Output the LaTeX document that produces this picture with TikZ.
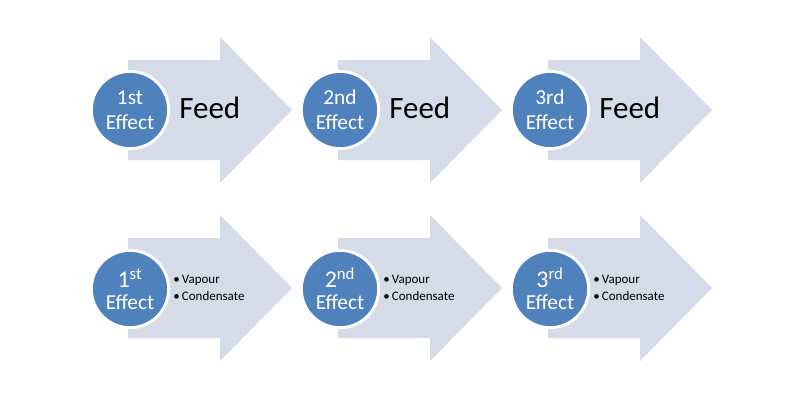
\documentclass[tikz,border=0pt]{standalone}
\usepackage{fontspec}
\setmainfont{Carlito}
\usepackage{xcolor}
\usepackage{tikz}

\definecolor{effblue}{HTML}{4F81BD}
\definecolor{arrowgray}{HTML}{D5DBE8}

\tikzset{
    arrowbody/.style={fill=arrowgray},
    effect/.style={circle,fill=effblue,draw=white,line width=2.2pt,minimum size=58pt,
        inner sep=0pt,text=white,align=center},
    efftop/.style={effect,font=\fontsize{16}{18.75}\selectfont},
    effbot/.style={effect,font=\fontsize{16}{16.5}\selectfont},
    feedtext/.style={anchor=base west,inner sep=0pt,font=\fontsize{23.25}{26}\selectfont},
    itemtext/.style={anchor=base west,inner sep=0pt,align=left,font=\fontsize{9.75}{12.75}\selectfont},
}

\begin{document}
\begin{tikzpicture}[x=0.75pt,y=-0.75pt]
            \useasboundingbox[fill=white] (0,0) rectangle (800,400);

            % top row arrows
            \fill[arrowbody,shift={(128,110)}] (0,-50) -- (92,-50) -- (92,-73) -- (164,0) -- (92,73) -- (92,50) -- (0,50) -- cycle;
            \fill[arrowbody,shift={(338,110)}] (0,-50) -- (92,-50) -- (92,-73) -- (164,0) -- (92,73) -- (92,50) -- (0,50) -- cycle;
            \fill[arrowbody,shift={(548,110)}] (0,-50) -- (92,-50) -- (92,-73) -- (164,0) -- (92,73) -- (92,50) -- (0,50) -- cycle;

            % bottom row arrows
            \fill[arrowbody,shift={(128,288)}] (0,-50) -- (92,-50) -- (92,-73) -- (164,0) -- (92,73) -- (92,50) -- (0,50) -- cycle;
            \fill[arrowbody,shift={(338,288)}] (0,-50) -- (92,-50) -- (92,-73) -- (164,0) -- (92,73) -- (92,50) -- (0,50) -- cycle;
            \fill[arrowbody,shift={(548,288)}] (0,-50) -- (92,-50) -- (92,-73) -- (164,0) -- (92,73) -- (92,50) -- (0,50) -- cycle;

            \node[efftop] (efftop1) at (130,110) {1st\\Effect};
            \node[efftop] (efftop2) at (340,110) {2nd\\Effect};
            \node[efftop] (efftop3) at (550,110) {3rd\\Effect};

            \node[feedtext] (feed1) at (179,118) {Feed};
            \node[feedtext] (feed2) at (389,118) {Feed};
            \node[feedtext] (feed3) at (599,118) {Feed};

            \node[effbot] (effbot1) at (130,289) {{\fontsize{18}{18}\selectfont 1\textsuperscript{st}}\\Effect};
            \node[effbot] (effbot2) at (340,289) {{\fontsize{18}{18}\selectfont 2\textsuperscript{nd}}\\Effect};
            \node[effbot] (effbot3) at (550,289) {{\fontsize{18}{18}\selectfont 3\textsuperscript{rd}}\\Effect};

            % base anchor sits on the last line here
            \node[itemtext] (items1) at (173,300) {\textbullet\,Vapour\\\textbullet\,Condensate};
            \node[itemtext] (items2) at (383,300) {\textbullet\,Vapour\\\textbullet\,Condensate};
            \node[itemtext] (items3) at (593,300) {\textbullet\,Vapour\\\textbullet\,Condensate};
        \end{tikzpicture}
\end{document}
